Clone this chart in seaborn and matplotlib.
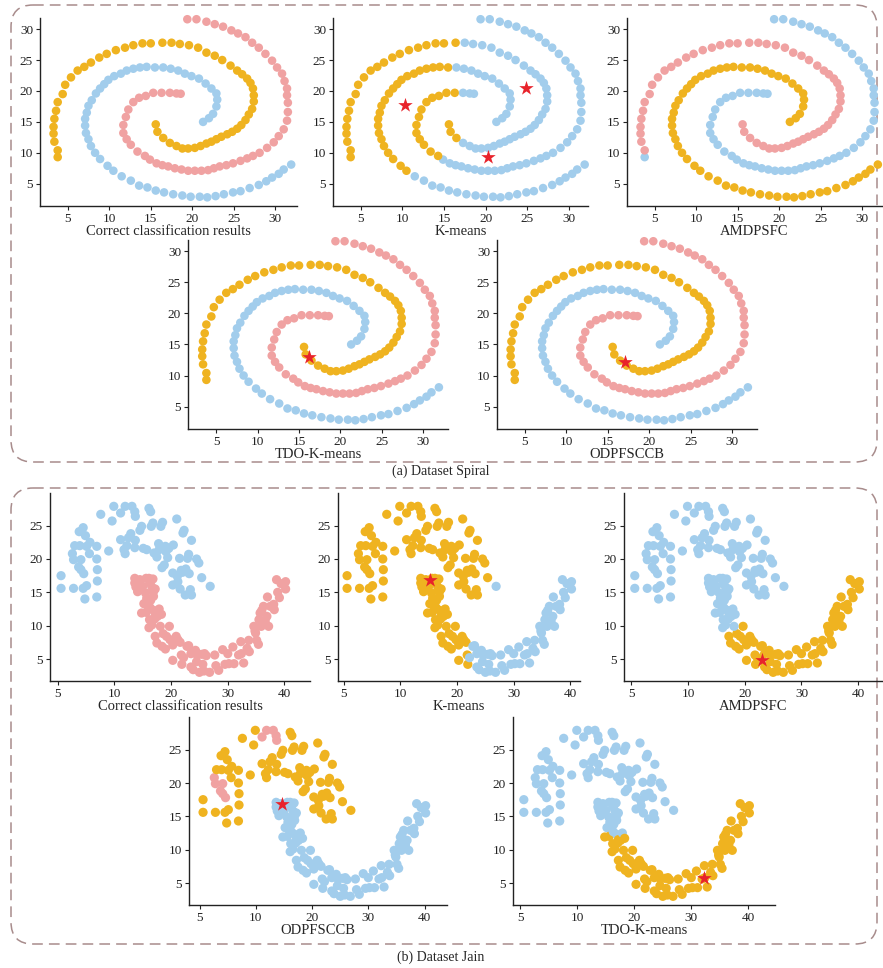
import numpy as np
import pandas as pd
import seaborn as sns
import matplotlib.pyplot as plt
from matplotlib.patches import FancyBboxPatch

sns.set_style("ticks")
plt.rcParams['font.family'] = ['Liberation Serif', 'DejaVu Serif']

# colours
COLORS = {'p': '#F0A2A2', 'y': '#EFB320', 'b': '#A2CDEC'}
STAR = '#E8232B'
BOX = '#A88C8C'

# ---------------- Spiral data (three arms) ----------------
arm_a_x = [19.4, 20.5, 21.7, 22.7, 23.7, 24.7, 25.5, 26.4, 27.2, 28.0, 28.8, 29.6, 30.2, 30.8,
           31.1, 31.4, 31.4, 31.5, 31.5, 31.4, 31.0, 30.4, 29.8, 29.0, 28.1, 27.3, 26.6, 25.8,
           24.9, 24.1, 23.3, 22.6, 21.9, 21.1, 20.3, 19.5, 18.7, 17.9, 17.1, 16.4, 15.7, 14.9,
           14.3, 13.4, 12.6, 12.1, 11.7, 11.7, 12.0, 12.3, 12.9, 13.6, 14.4, 15.3, 16.3, 17.3,
           18.1, 18.6]
arm_a_y = [31.6, 31.6, 31.2, 30.8, 30.4, 29.8, 29.3, 28.7, 27.8, 27.0, 26.0, 24.9, 23.8, 22.8,
           21.6, 20.4, 19.3, 18.1, 16.6, 15.2, 13.8, 12.7, 11.7, 10.8, 10.0, 9.5, 9.1, 8.7,
           8.3, 8.0, 7.8, 7.5, 7.2, 7.1, 7.1, 7.1, 7.3, 7.5, 7.8, 8.0, 8.3, 8.9,
           9.5, 10.2, 11.3, 12.2, 13.2, 14.5, 15.8, 17.0, 18.2, 18.9, 19.2, 19.7, 19.7, 19.7,
           19.6, 19.55]

arm_b_x = [3.8, 3.8, 3.4, 3.3, 3.3, 3.4, 3.6, 3.8, 4.4, 4.7, 5.4, 6.2, 7.0, 7.8, 8.8, 9.7,
           10.8, 11.9, 12.9, 14.0, 15.0, 16.4, 17.5, 18.5, 19.6, 20.7, 21.7, 22.7, 23.6, 24.6,
           25.4, 26.0, 26.6, 27.0, 27.3, 27.4, 27.4, 27.2, 26.8, 26.4, 25.9, 25.4, 24.8, 24.2,
           23.5, 22.9, 22.3, 21.7, 21.0, 20.3, 19.5, 18.8, 18.1, 17.3, 16.5, 15.8, 15.6]
arm_b_y = [9.3, 10.4, 11.8, 13.1, 14.2, 15.5, 16.8, 18.2, 19.5, 21.0, 22.2, 23.3, 23.9, 24.6,
           25.4, 26.0, 26.6, 27.0, 27.4, 27.7, 27.7, 27.8, 27.8, 27.6, 27.4, 27.0, 26.2, 25.7,
           25.0, 24.1, 23.3, 22.7, 22.0, 21.3, 20.4, 19.3, 18.3, 17.1, 16.2, 15.3, 14.5, 13.9,
           13.4, 13.0, 12.6, 12.2, 11.8, 11.5, 11.1, 10.8, 10.7, 10.7, 11.1, 11.6, 12.4, 13.4,
           14.6]

arm_c_x = [31.9, 31.0, 30.4, 29.6, 28.9, 28.0, 26.9, 25.8, 24.9, 23.8, 22.8, 21.8, 20.9, 19.8,
           18.8, 17.7, 16.6, 15.6, 14.6, 13.6, 12.6, 11.5, 10.5, 9.8, 8.9, 8.3, 7.8, 7.5, 7.2,
           7.1, 7.1, 7.3, 7.5, 7.9, 8.4, 8.9, 9.4, 9.9, 10.6, 11.4, 12.1, 12.9, 13.7, 14.5,
           15.5, 16.5, 17.4, 18.3, 19.1, 19.9, 20.8, 21.6, 22.3, 22.9, 23.0, 22.9, 22.5, 22.0,
           21.3]
arm_c_y = [8.1, 7.3, 6.6, 6.0, 5.4, 4.8, 4.3, 3.8, 3.6, 3.3, 3.0, 2.8, 2.9, 2.9, 3.1, 3.3,
           3.6, 3.9, 4.4, 4.7, 5.5, 6.2, 7.1, 7.9, 9.0, 10.0, 11.1, 12.2, 13.2, 14.4, 15.5,
           16.5, 17.6, 18.5, 19.6, 20.4, 21.1, 21.8, 22.4, 22.8, 23.3, 23.6, 23.8, 23.9, 23.8,
           23.8, 23.6, 23.3, 22.8, 22.4, 22.0, 21.2, 20.4, 19.6, 18.6, 17.5, 16.3, 15.6, 15.0]

na, nb, nc = len(arm_a_x), len(arm_b_x), len(arm_c_x)

# cluster labels per arm for each method
spiral_true = ['p'] * na + ['y'] * nb + ['b'] * nc
spiral_kmeans = (['b'] * 42 + ['y'] * 13 + ['b'] * (na - 55)
                 + ['y'] * 22 + ['b'] * 32 + ['y'] * (nb - 54)
                 + ['b'] * 22 + ['y'] * 23 + ['b'] * (nc - 45))
spiral_amdpsfc = ['b'] * na + ['b'] + ['p'] * (nb - 1) + ['y'] * nc

spiral_kmeans_star_x = [10.35, 24.8, 20.3]
spiral_kmeans_star_y = [17.7, 20.4, 9.25]
spiral_tdo_star_x = [16.25]
spiral_tdo_star_y = [13.05]
spiral_odp_star_x = [17.1]
spiral_odp_star_y = [12.1]

# ---------------- Jain data ----------------
jain_up_x = [0.6, 0.6, 2.8, 2.6, 2.8, 3.0, 3.9, 3.8, 4.5, 4.1, 3.7, 4.1, 4.6, 4.5, 4.8, 5.1,
             4.9, 5.1, 5.6, 5.7, 6.9, 6.9, 7.0, 7.0, 6.9, 7.6, 9.0, 9.6, 9.9, 11.1, 11.1, 11.7,
             11.9, 11.9, 12.5, 12.9, 13.1, 13.6, 13.7, 13.7, 13.6, 14.5, 14.8, 15.1, 15.7, 16.1,
             16.4, 16.5, 16.8, 17.0, 17.5, 17.8, 17.9, 18.2, 18.5, 18.4, 18.8, 19.0, 19.1, 19.4,
             20.3, 20.4, 21.0, 21.1, 21.2, 21.5, 21.6, 21.8, 22.1, 22.3, 22.5, 22.6, 22.9, 23.1,
             23.2, 23.4, 23.6, 23.6, 24.5, 24.9, 25.4, 26.9, 20.3, 12.2, 19.6, 22.0]
jain_up_y = [17.5, 15.6, 15.6, 20.8, 19.9, 22.0, 22.0, 24.1, 24.7, 19.9, 18.8, 18.4, 17.8, 15.6,
             14.0, 16.0, 23.5, 21.9, 20.8, 22.5, 21.9, 20.0, 18.4, 16.7, 14.3, 26.7, 21.2, 25.7,
             27.9, 26.9, 22.9, 21.4, 20.8, 27.9, 23.2, 23.8, 27.9, 27.1, 26.4, 22.8, 21.7, 24.3,
             24.9, 21.6, 21.4, 27.6, 27.1, 24.9, 25.4, 20.9, 20.3, 22.3, 21.4, 24.9, 25.5, 18.7,
             19.1, 21.9, 21.1, 20.2, 17.9, 22.1, 26.0, 17.4, 16.6, 20.1, 15.5, 18.3, 23.9, 24.3,
             14.6, 18.5, 20.1, 20.7, 17.8, 15.4, 14.6, 22.8, 20.0, 19.4, 17.2, 15.9, 16.1, 22.0,
             21.6, 18.0]

jain_low_x = [13.6, 13.6, 13.8, 14.1, 14.5, 15.0, 15.6, 16.1, 16.3, 16.8, 16.6, 16.9, 17.2, 15.5,
              15.7, 15.2, 15.9, 16.4, 16.9, 14.8, 15.6, 16.3, 16.9, 17.2, 16.2, 16.1, 16.6, 17.1,
              17.6, 17.9, 18.3, 17.2, 17.5, 18.4, 18.6, 19.2, 19.7, 19.8, 20.3, 20.3, 20.9, 21.2,
              21.6, 21.8, 21.9, 23.1, 23.5, 23.5, 23.9, 24.3, 24.5, 25.0, 25.4, 25.6, 25.8, 25.9,
              26.2, 26.8, 27.7, 27.9, 28.4, 29.1, 29.5, 30.2, 30.9, 31.1, 31.9, 32.3, 32.4, 32.8,
              33.4, 33.7, 34.6, 34.9, 35.1, 35.4, 35.5, 35.7, 35.9, 36.3, 36.6, 36.9, 37.0, 37.2,
              37.5, 38.1, 38.2, 38.6, 38.8, 39.1, 39.4, 40.2, 40.2, 19.0, 22.8, 24.6, 30.0, 33.8,
              34.8, 36.0, 22.2, 18.1]
jain_low_y = [17.1, 16.4, 15.8, 15.1, 16.9, 15.9, 17.1, 17.1, 16.4, 17.0, 15.8, 15.1, 15.5, 14.9,
              14.1, 13.3, 13.0, 13.8, 14.4, 11.9, 12.0, 12.7, 12.3, 11.5, 10.9, 9.7, 10.1, 11.0,
              11.4, 12.5, 11.7, 8.4, 7.4, 6.9, 8.8, 8.4, 9.9, 7.9, 7.1, 4.8, 8.4, 7.9, 7.5, 5.6,
              4.2, 7.0, 5.8, 3.8, 3.4, 6.3, 4.6, 3.0, 5.7, 4.2, 3.2, 5.8, 5.5, 3.0, 5.6, 4.0, 3.3,
              6.4, 4.2, 4.3, 6.8, 4.3, 5.6, 7.6, 5.8, 4.4, 6.6, 7.8, 9.9, 8.9, 7.8, 7.2, 10.9,
              11.9, 9.9, 12.9, 10.7, 11.4, 14.3, 9.9, 12.9, 13.2, 12.4, 16.9, 15.0, 14.2, 16.3,
              16.6, 15.5, 6.5, 6.9, 5.6, 5.8, 6.1, 9.2, 12.3, 5.2, 9.9]

jain_x = np.array(jain_up_x + jain_low_x)
jain_y = np.array(jain_up_y + jain_low_y)
upper = np.array([True] * len(jain_up_x) + [False] * len(jain_low_x))

jain_true = np.where(upper, 'b', 'p')
# K-means: lower right part (and the far right upper point) go blue
jain_kmeans = np.where((~upper & (jain_x > 22.0)) | (upper & (jain_x > 26.0)), 'b', 'y')
# AMDPSFC: bottom of the lower moon yellow
jain_amdpsfc = np.where(~upper & ((jain_y < 9.6) | (jain_x > 19.5)), 'y', 'b')
# TDO-K-means
jain_tdo = np.where(~upper & ((jain_y < 12.2) | (jain_x > 25.0)), 'y', 'b')
# ODPFSCCB: two small pink groups in the upper moon
pink_grp = upper & (((jain_x > 2.3) & (jain_x < 5.0) & (jain_y > 17.5) & (jain_y < 21.2))
                    | ((jain_x > 10.5) & (jain_x < 14.0) & (jain_y > 26.0)))
jain_odp = np.where(~upper, 'b', np.where(pink_grp, 'p', 'y'))

jain_kmeans_star = ([15.3], [16.8])
jain_amdpsfc_star = ([23.0], [4.85])
jain_odp_star = ([14.7], [16.8])
jain_tdo_star = ([32.3], [5.7])

spiral_x = np.array(arm_a_x + arm_b_x + arm_c_x)
spiral_y = np.array(arm_a_y + arm_b_y + arm_c_y)

# ---------------- figure ----------------
W, H = 883, 968
fig = plt.figure(figsize=(W / 100, H / 100), dpi=100)

bg = fig.add_axes([0, 0, 1, 1], zorder=-5)
bg.set_xlim(0, W)
bg.set_ylim(H, 0)
bg.axis('off')
for top, bot in [(5, 462), (488, 944)]:
    bg.add_patch(FancyBboxPatch((11, top), 866, bot - top,
                                boxstyle='round,pad=0,rounding_size=22', fill=False,
                                ec=BOX, lw=1.1, ls=(0, (7, 4))))
bg.text(441, 471, '(a) Dataset Spiral', ha='center', va='center', fontsize=10)
bg.text(441, 957, '(b) Dataset Jain', ha='center', va='center', fontsize=10)


def panel(box, x, y, lab, title, xlim, ylim, xticks, xtl, yticks, s, stars=None):
    l, t, r, b = box
    ax = fig.add_axes([l / W, 1 - b / H, (r - l) / W, (b - t) / H])
    df = pd.DataFrame({'x': x, 'y': y, 'c': lab})
    sns.scatterplot(data=df, x='x', y='y', hue='c', palette=COLORS, s=s,
                    linewidth=0, legend=False, ax=ax, clip_on=False)
    if stars is not None:
        sns.scatterplot(x=stars[0], y=stars[1], marker='*', s=120, color=STAR,
                        linewidth=0, ax=ax, zorder=5)
    ax.set_xlim(*xlim)
    ax.set_ylim(*ylim)
    ax.set_xticks(xticks)
    ax.set_xticklabels(xtl)
    ax.set_yticks(yticks)
    ax.tick_params(direction='out', length=3, width=0.8, labelsize=9.5, pad=2,
                   colors='#222222')
    ax.set_xlabel(title, fontsize=10.5, labelpad=0)
    ax.set_ylabel('')
    sns.despine(ax=ax)
    for sp in ['left', 'bottom']:
        ax.spines[sp].set_linewidth(1.0)
        ax.spines[sp].set_color('#222222')
    ax.patch.set_alpha(0)
    return ax


sp_ticks = [5, 10, 15, 20, 25, 30]
sp_tl = [str(v) for v in sp_ticks]
sp_ylim = (1.4, 31.8)
sp_s = 38

panel((40, 18, 297, 206), spiral_x, spiral_y, spiral_true, 'Correct classification results',
      (1.67, 32.6), sp_ylim, sp_ticks, sp_tl, sp_ticks, sp_s)
panel((333, 18, 588, 206), spiral_x, spiral_y, spiral_kmeans, 'K-means',
      (1.68, 32.3), sp_ylim, sp_ticks, sp_tl, sp_ticks, sp_s,
      stars=(spiral_kmeans_star_x, spiral_kmeans_star_y))
panel((627, 18, 882, 206), spiral_x, spiral_y, spiral_amdpsfc, 'AMDPSFC',
      (1.67, 32.4), sp_ylim, sp_ticks, sp_tl, sp_ticks, sp_s)
panel((188, 240, 448, 429), spiral_x, spiral_y, spiral_true, 'TDO-K-means',
      (1.58, 33.0), sp_ylim, sp_ticks, sp_tl, sp_ticks, sp_s,
      stars=(spiral_tdo_star_x, spiral_tdo_star_y))
panel((497, 240, 757, 429), spiral_x, spiral_y, spiral_true, 'ODPFSCCB',
      (1.66, 33.0), sp_ylim, sp_ticks, sp_tl, sp_ticks, sp_s,
      stars=(spiral_odp_star_x, spiral_odp_star_y))

j_xticks = [0, 10, 20, 30, 40]
j_xtl = ['5', '10', '20', '30', '40']
j_yticks = [5, 10, 15, 20, 25]
j_ylim = (1.7, 29.9)
j_s = 44

panel((50, 493, 310, 681), jain_x, jain_y, jain_true, 'Correct classification results',
      (-1.35, 44.5), j_ylim, j_xticks, j_xtl, j_yticks, j_s)
panel((338, 493, 580, 681), jain_x, jain_y, jain_kmeans, 'K-means',
      (-1.0, 41.7), j_ylim, j_xticks, j_xtl, j_yticks, j_s, stars=jain_kmeans_star)
panel((624, 493, 882, 681), jain_x, jain_y, jain_amdpsfc, 'AMDPSFC',
      (-1.3, 44.2), j_ylim, j_xticks, j_xtl, j_yticks, j_s, stars=jain_amdpsfc_star)
panel((189, 717, 447, 905), jain_x, jain_y, jain_odp, 'ODPFSCCB',
      (-1.9, 44.0), j_ylim, j_xticks, j_xtl, j_yticks, j_s, stars=jain_odp_star)
panel((513, 717, 775, 905), jain_x, jain_y, jain_tdo, 'TDO-K-means',
      (-1.3, 44.7), j_ylim, j_xticks, j_xtl, j_yticks, j_s, stars=jain_tdo_star)

fig.savefig('out.png', dpi=100, facecolor='white')
